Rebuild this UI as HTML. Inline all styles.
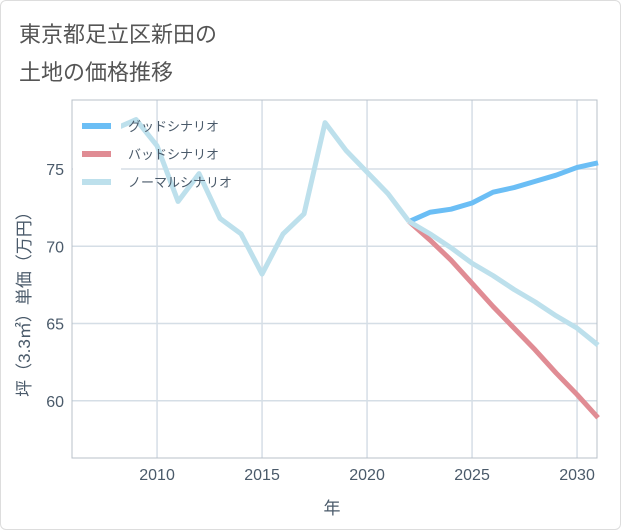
<!DOCTYPE html>
<html><head><meta charset="utf-8"><style>
body{margin:0;background:#fff;font-family:"Liberation Sans","Noto Sans CJK JP",sans-serif}
#wrap{position:relative;width:619px;height:528px;border:1px solid #ddd;border-radius:6px;overflow:hidden}
.title{position:absolute;left:18px;font-size:22px;color:#555}
</style></head><body>
<div id="wrap">
<div class="title" style="top:16px">東京都足立区新田の</div>
<div class="title" style="top:54px">土地の価格推移</div>
<svg id="chart" width="621" height="530" style="position:absolute;left:-1px;top:-1px"></svg>
</div>
<script>
const histYears=[2008,2009,2010,2011,2012,2013,2014,2015,2016,2017,2018,2019,2020,2021,2022];
const histValues=[77.6,78.2,76.5,72.9,74.7,71.8,70.8,68.2,70.8,72.1,78.0,76.2,74.8,73.4,71.6];
const futureYears=[2022,2023,2024,2025,2026,2027,2028,2029,2030,2031];
const goodValues=[71.6,72.2,72.4,72.8,73.5,73.8,74.2,74.6,75.1,75.4];
const badValues=[71.6,70.4,69.1,67.6,66.1,64.7,63.3,61.8,60.4,58.9];
const normalValues=[71.6,70.8,69.9,68.9,68.1,67.2,66.4,65.5,64.7,63.6];
const xTicks=[2010,2015,2020,2025,2030];
const yTicks=[60,65,70,75];
const L=72,R=597,T=100,B=458;
const x=v=>L+(v-2005.95)*(R-L)/25;
const y=v=>169+(75-v)*15.45;
const svg=document.getElementById('chart');
const NS='http://www.w3.org/2000/svg';
function mk(t,a){const e=document.createElementNS(NS,t);for(const k in a)e.setAttribute(k,a[k]);svg.appendChild(e);return e;}
xTicks.forEach(t=>{const l=mk('line',{x1:x(t),x2:x(t),y1:T,y2:B,stroke:'#d5dee6','stroke-width':1.5});


const tx=mk('text',{x:x(t),y:B+22,'text-anchor':'middle','font-size':16,fill:'#4a5a6a'});tx.textContent=t;

});
yTicks.forEach(t=>{const l=mk('line',{x1:L,x2:R,y1:y(t),y2:y(t),stroke:'#d5dee6','stroke-width':1.5});


const tx=mk('text',{x:L-8,y:y(t)+6,'text-anchor':'end','font-size':16,fill:'#4a5a6a'});tx.textContent=t;

});
const fr=mk('rect',{x:L,y:T,width:R-L,height:B-T,fill:'none',stroke:'#b8c0c8','stroke-width':1});


function line(xs,vs,c,n){const p=mk('polyline',{points:xs.map((v,i)=>x(v)+','+y(vs[i])).join(' '),fill:'none',stroke:c,'stroke-width':5,'stroke-linejoin':'round'});

}
line(futureYears,goodValues,'#6bbef5','good-scenario-line');
line(futureYears,badValues,'#e08c94','bad-scenario-line');
line(futureYears,normalValues,'#bde0ec','normal-scenario-line');
line(histYears,histValues,'#bde0ec','history-line');
const lb=mk('rect',{x:73,y:101,width:48,height:98,fill:'#fff'});


const lg=[['グッドシナリオ','#6bbef5'],['バッドシナリオ','#e08c94'],['ノーマルシナリオ','#bde0ec']];
lg.forEach((d,i)=>{const yy=126+i*28;
const l=mk('line',{x1:82,x2:111,y1:yy,y2:yy,stroke:d[1],'stroke-width':6});


const t=mk('text',{x:128,y:yy+5,'font-size':13,fill:'#4a5a6a'});t.textContent=d[0];

});
const xl=mk('text',{x:332,y:514,'text-anchor':'middle','font-size':17,fill:'#4a5a6a'});xl.textContent='年';


const yl=mk('text',{x:0,y:0,'text-anchor':'middle','font-size':17,fill:'#4a5a6a',transform:'translate(30,300) rotate(-90)'});yl.textContent='坪（3.3㎡）単価（万円）';


</script>
</body></html>
